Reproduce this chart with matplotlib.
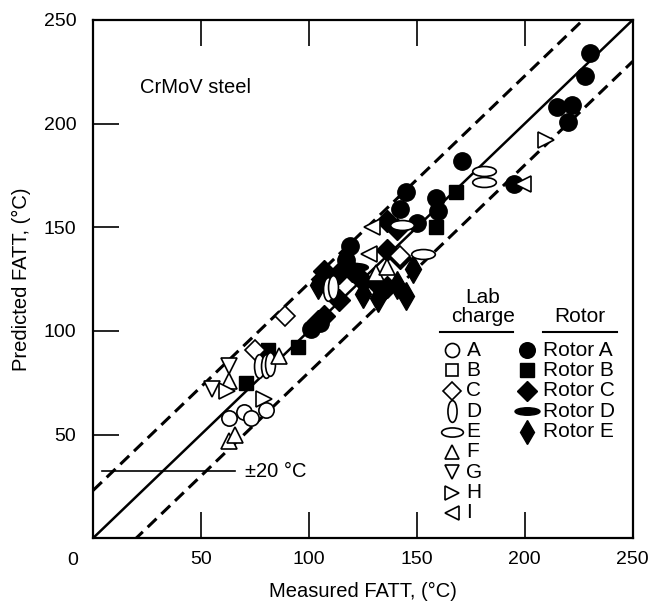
import matplotlib
matplotlib.use("Agg")
import matplotlib.pyplot as plt
import numpy as np
from matplotlib.path import Path
from matplotlib.markers import MarkerStyle

plt.rcParams['font.family'] = ['Liberation Sans', 'DejaVu Sans']

# ---- data ----
rotor_a_x = [230, 228, 215, 222, 220, 171, 195, 159, 160, 150, 145, 142, 119, 117, 110, 101, 105]
rotor_a_y = [234, 223, 208, 209, 201, 182, 171, 164, 158, 152, 167, 159, 141, 134, 126, 101, 104]
rotor_b_x = [168, 159, 81, 95, 71]
rotor_b_y = [167, 150, 91, 92, 75]
rotor_c_x = [136, 141, 136, 142, 114, 120, 125, 131, 136, 107, 114, 104, 107]
rotor_c_y = [153, 149, 139, 135, 128, 129, 124, 123, 121, 129, 115, 105, 107]
rotor_d_x = [121]
rotor_d_y = [131]
rotor_e_x = [104, 132, 141, 145, 148, 125]
rotor_e_y = [122, 116, 122, 117, 130, 118]

lab_a_x = [63, 70, 73, 80]
lab_a_y = [58, 61, 58, 62]
lab_c_x = [75, 89, 142]
lab_c_y = [91, 107, 136]
lab_d_x = [77, 80, 82, 109, 111]
lab_d_y = [83, 83, 84, 120, 121]
lab_e_x = [181, 181, 153, 143]
lab_e_y = [177, 172, 137, 151]
lab_f_x = [63, 66, 63, 86, 131, 136]
lab_f_y = [47, 50, 76, 88, 128, 131]
lab_g_x = [63, 55]
lab_g_y = [83, 72]
lab_h_x = [62, 79, 210]
lab_h_y = [71, 67, 192]
lab_i_x = [199, 129, 128]
lab_i_y = [171, 150, 137]

band_upper = 23
band_lower = -20

lab_letters = ['A', 'B', 'C', 'D', 'E', 'F', 'G', 'H', 'I']
rotor_names = ['Rotor A', 'Rotor B', 'Rotor C', 'Rotor D', 'Rotor E']

xticks = [50, 100, 150, 200, 250]
yticks = [50, 100, 150, 200, 250]

# ---- marker shapes ----
circ = Path.unit_circle()
v_ell = MarkerStyle(Path(circ.vertices * [0.42, 1.0], circ.codes))
h_ell = MarkerStyle(Path(circ.vertices * [1.0, 0.42], circ.codes))
flat_ell = MarkerStyle(Path(circ.vertices * [1.0, 0.30], circ.codes))

open_styles = [('o', 11), ('s', 10), ('D', 10), (v_ell, 17), (h_ell, 17),
               ('^', 11), ('v', 11), ('>', 11), ('<', 11)]
filled_styles = [('o', 12.5), ('s', 10.5), ('D', 11), (flat_ell, 20), ('d', 14)]

fig = plt.figure(figsize=(6.55, 6.04), dpi=100)
ax = fig.add_axes([0.142, 0.109, 0.824, 0.858])
ax.set_xlim(0, 250)
ax.set_ylim(0, 250)

# reference lines
xs = np.array([0, 250])
ax.plot(xs, xs, color='black', lw=1.8, zorder=2)
ax.plot(xs, xs + band_upper, color='black', lw=2.2, dashes=(4, 2.2), zorder=2)
ax.plot(xs, xs + band_lower, color='black', lw=2.2, dashes=(4, 2.2), zorder=2)

# filled (rotor) points
rotor_data = [(rotor_a_x, rotor_a_y), (rotor_b_x, rotor_b_y), (rotor_c_x, rotor_c_y),
              (rotor_d_x, rotor_d_y), (rotor_e_x, rotor_e_y)]
for (mx, my), (m, s) in zip(rotor_data, filled_styles):
    ax.plot(mx, my, ls='none', marker=m, ms=s, mfc='black', mec='black', zorder=3)

# open (lab charge) points
lab_data = {0: (lab_a_x, lab_a_y), 2: (lab_c_x, lab_c_y), 3: (lab_d_x, lab_d_y),
            4: (lab_e_x, lab_e_y), 5: (lab_f_x, lab_f_y), 6: (lab_g_x, lab_g_y),
            7: (lab_h_x, lab_h_y), 8: (lab_i_x, lab_i_y)}
for i, (mx, my) in lab_data.items():
    m, s = open_styles[i]
    ax.plot(mx, my, ls='none', marker=m, ms=s, mfc='white', mec='black', mew=1.2, zorder=4)

# ±20 annotation
ax.plot([4, 66], [32.3, 32.3], color='black', lw=1.2)
ax.text(70.5, 32.3, '±20 °C', fontsize=14.5, va='center', ha='left')
ax.text(0.087, 0.869, 'CrMoV steel', transform=ax.transAxes, fontsize=14.5,
        va='center', ha='left')

# legend drawn by hand
tr = ax.transAxes
ax.text(0.722, 0.446, 'Lab\ncharge', transform=tr, ha='center', va='center',
        fontsize=15, linespacing=0.95)
ax.text(0.902, 0.427, 'Rotor', transform=tr, ha='center', va='center', fontsize=15)
ax.plot([0.643, 0.778], [0.398, 0.398], transform=tr, color='black', lw=1.5, clip_on=False)
ax.plot([0.833, 0.970], [0.398, 0.398], transform=tr, color='black', lw=1.5, clip_on=False)
y0, dy = 0.363, 0.0393
for i, lab in enumerate(lab_letters):
    yy = y0 - i * dy
    m, s = open_styles[i]
    ax.plot([0.665], [yy], transform=tr, ls='none', marker=m, ms=s * 0.92,
            mfc='white', mec='black', mew=1.2, clip_on=False)
    ax.text(0.692, yy, lab, transform=tr, ha='left', va='center', fontsize=15)
for i, lab in enumerate(rotor_names):
    yy = y0 - i * dy
    m, s = filled_styles[i]
    ax.plot([0.804], [yy], transform=tr, ls='none', marker=m, ms=s * 0.9,
            mfc='black', mec='black', clip_on=False)
    ax.text(0.833, yy, lab, transform=tr, ha='left', va='center', fontsize=15)

# axes styling
ax.set_xticks(xticks)
ax.set_yticks(yticks)
ax.tick_params(direction='in', length=19, width=1.2, top=True, right=False,
               labelsize=14, colors='black')
ax.tick_params(axis='x', pad=9)
ax.tick_params(axis='y', pad=12)
for sp in ax.spines.values():
    sp.set_linewidth(1.6)
ax.text(-0.037, -0.044, '0', transform=tr, ha='center', va='center', fontsize=14)

ax.set_xlabel('Measured FATT, (°C)', fontsize=14.5, labelpad=10)
ax.set_ylabel('Predicted FATT, (°C)', fontsize=14.5, labelpad=9)

fig.savefig('out.png', dpi=100)
